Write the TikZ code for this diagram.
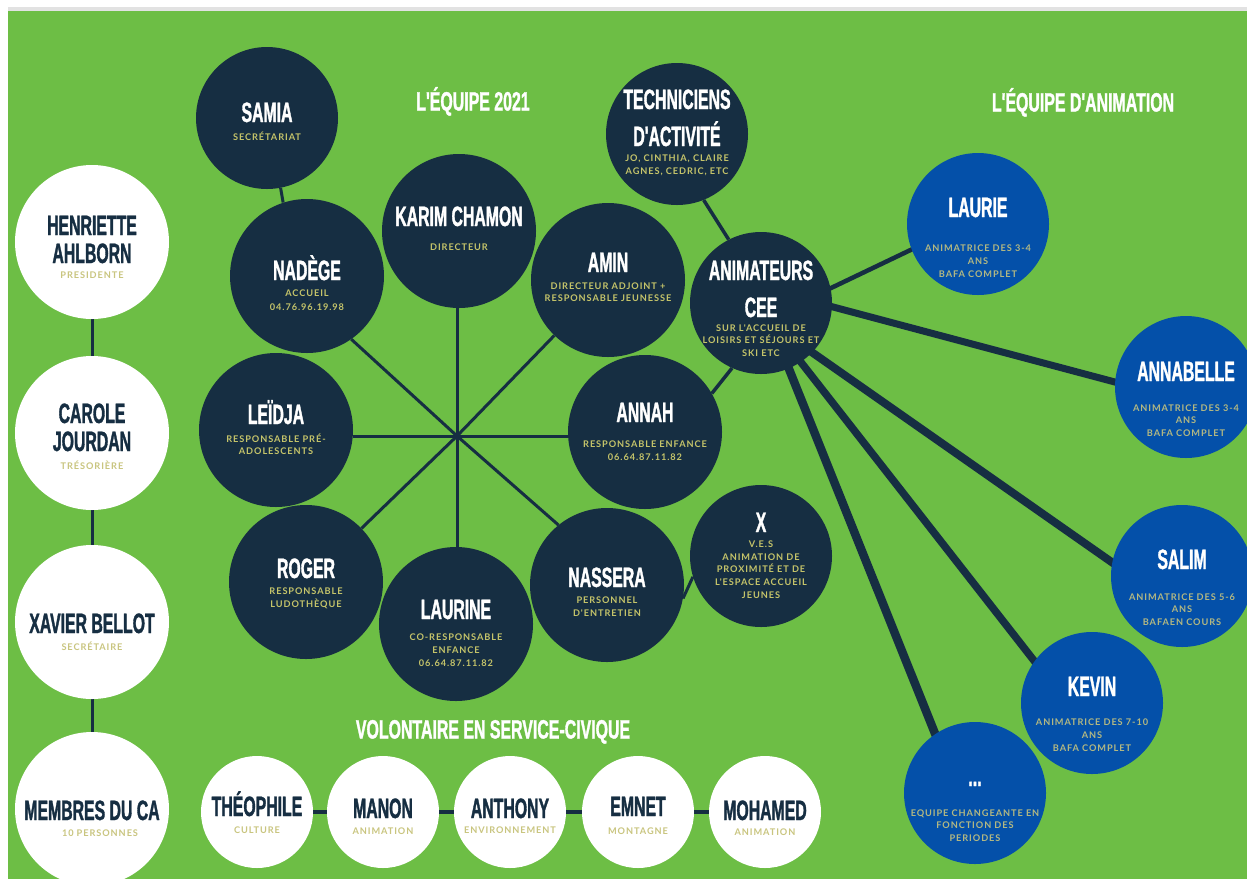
\documentclass[tikz,border=0pt]{standalone}
\usepackage{fontspec}
\newfontfamily\condf[FakeStretch=0.565,FakeBold=1.2]{Liberation Sans}
\newfontfamily\titlef[FakeStretch=0.60,FakeBold=1.2]{Liberation Sans}
\newfontfamily\subff[LetterSpace=10]{Lato}
\newcommand\substrut{\rule{0pt}{9pt}}
\definecolor{grn}{HTML}{6DBE45}
\definecolor{navy}{HTML}{162E42}
\definecolor{blu}{HTML}{0450A9}
\definecolor{oliv}{HTML}{C5C46A}
\definecolor{khaki}{HTML}{C9C57F}
\definecolor{bkhaki}{HTML}{B3B882}
\definecolor{topgray}{HTML}{E2E2E2}
\pgfdeclarelayer{back}
\pgfdeclarelayer{lines}
\pgfsetlayers{back,lines,main}
\begin{document}
\begin{tikzpicture}[x=1pt,y=-1pt,
  dk/.style={circle,fill=navy,inner sep=0,minimum size=#1},
  bl/.style={circle,fill=blu,inner sep=0,minimum size=#1},
  wh/.style={circle,fill=white,inner sep=0,minimum size=#1},
  nmw/.style={font=\condf\bfseries\fontsize{28}{28}\selectfont,text=white,inner sep=0,anchor=base},
  nmn/.style={font=\condf\bfseries\fontsize{28}{28}\selectfont,text=navy,inner sep=0,anchor=base},
  ttl/.style={font=\titlef\bfseries\fontsize{26.5}{26.5}\selectfont,text=white,inner sep=0,anchor=base},
  sbd/.style={font=\subff\bfseries\fontsize{9.2}{12.8}\selectfont,text=oliv,align=center,inner sep=0,anchor=north},
  sbw/.style={sbd,text=khaki},
  sbb/.style={sbd,text=bkhaki},
  ln/.style={draw=navy,line width=3},
  wln/.style={draw=navy,line width=#1,shorten <=-4pt,shorten >=-4pt}]
\useasboundingbox (0,0) rectangle (1247,879);
\clip (0,0) rectangle (1247,879);
\begin{pgfonlayer}{back}
  \fill[white] (0,0) rectangle (1247,879);
  \fill[topgray] (8,7) rectangle (1247,11);
  \fill[grn] (8,11) rectangle (1247,879);
\end{pgfonlayer}

% titles
\node[ttl] (t2021) at (473,110.5) {L'ÉQUIPE 2021};
\node[ttl] (tanim) at (1083,111.5) {L'ÉQUIPE D'ANIMATION};
\node[ttl] (tvol) at (493,738.5) {VOLONTAIRE EN SERVICE-CIVIQUE};

% white column
\node[wh=154] (henriette) at (92,242) {};
\node[wh=154] (carole) at (92,433) {};
\node[wh=154] (xavier) at (92,622) {};
\node[wh=154] (membres) at (92,809) {};
% dark circles
\node[dk=142] (samia) at (267,118) {};
\node[dk=154] (nadege) at (307,276) {};
\node[dk=154] (karim) at (459,231) {};
\node[dk=154] (amin) at (608,280) {};
\node[dk=142] (tech) at (677,134) {};
\node[dk=142] (anim) at (761,303) {};
\node[dk=154] (leidja) at (276,430) {};
\node[dk=154] (annah) at (645,432) {};
\node[dk=154] (roger) at (306,582) {};
\node[dk=154] (laurine) at (456,624) {};
\node[dk=154] (nassera) at (607,585) {};
\node[dk=142] (xnode) at (761,556) {};
% blue circles
\node[bl=142] (laurie) at (978,224) {};
\node[bl=142] (annabelle) at (1186,387) {};
\node[bl=142] (salim) at (1182,576) {};
\node[bl=142] (kevin) at (1092,703) {};
\node[bl=142] (dots) at (975,793) {};
% bottom row
\node[wh=112] (theo) at (257,812) {};
\node[wh=112] (manon) at (383,812) {};
\node[wh=112] (anthony) at (510,812) {};
\node[wh=112] (emnet) at (638,812) {};
\node[wh=112] (mohamed) at (765,812) {};

\coordinate (hub) at (457,436);

\begin{pgfonlayer}{lines}
  \draw[ln] (hub) -- (hub |- karim.south);
  \draw[ln] (hub) -- (amin);
  \draw[ln] (hub) -- (hub -| annah.west);
  \draw[ln] (hub) -- (nassera.129);
  \draw[ln] (hub) -- (hub |- laurine.north);
  \draw[ln] (hub) -- (roger);
  \draw[ln] (hub) -- (hub -| leidja.east);
  \draw[ln] (hub) -- (nadege.-55.5);
  \draw[ln] (samia.-79.5) -- (nadege.108);
  \draw[ln,line width=3.5] (tech.-68) -- (anim.117.6);
  \draw[ln,line width=3.5] (annah.30) -- (anim.-114);
  \draw[ln] (nassera.-10) -- (xnode.-163.4);
  \draw[wln=4.5] (anim.12.7) -- (laurie.-159.5);
  \draw[wln=7] (anim.-3) -- (annabelle.176);
  \draw[wln=8] (anim.-44) -- (salim.169.5);
  \draw[wln=7.5] (anim.-56.5) -- (kevin.144.5);
  \draw[wln=8.5] (anim.-67) -- (dots.124.6);
  \draw[ln] (henriette) -- (carole);
  \draw[ln] (carole) -- (xavier);
  \draw[ln] (xavier) -- (membres);
  \draw[ln,line width=4] (theo) -- (manon);
  \draw[ln,line width=4] (manon) -- (anthony);
  \draw[ln,line width=4] (anthony) -- (emnet);
  \draw[ln,line width=4] (emnet) -- (mohamed);
\end{pgfonlayer}

% texts: white column
\node[nmn] (henriette-n1) at (92,235) {HENRIETTE};
\node[nmn] (henriette-n2) at (92,263) {AHLBORN};
\node[sbw] (henriette-s) at (92,269.2) {\substrut PRESIDENTE};
\node[nmn] (carole-n1) at (92,423) {CAROLE};
\node[nmn] (carole-n2) at (92,451) {JOURDAN};
\node[sbw] (carole-s) at (92,460.2) {\substrut TRÉSORIÈRE};
\node[nmn] (xavier-n) at (92,633) {XAVIER BELLOT};
\node[sbw] (xavier-s) at (92,641.2) {\substrut SECRÉTAIRE};
\node[nmn] (membres-n) at (92,820) {MEMBRES DU CA};
\node[sbw] (membres-s) at (100,827.2) {\substrut 10 PERSONNES};

% dark
\node[nmw] (samia-n) at (267,122) {SAMIA};
\node[sbd] (samia-s) at (267,131.2) {\substrut SECRÉTARIAT};
\node[nmw] (nadege-n) at (307,280) {NADÈGE};
\node[sbd,font=\subff\bfseries\fontsize{9.2}{14}\selectfont] (nadege-s) at (307,287.2) {\substrut ACCUEIL\\04.76.96.19.98};
\node[nmw] (karim-n) at (459,226) {KARIM CHAMON};
\node[sbd] (karim-s) at (459,241.2) {\substrut DIRECTEUR};
\node[nmw] (amin-n) at (608,272) {AMIN};
\node[sbd,font=\subff\bfseries\fontsize{9.2}{12.2}\selectfont] (amin-s) at (608,280.2) {\substrut DIRECTEUR ADJOINT +\\RESPONSABLE JEUNESSE};
\node[nmw] (tech-n1) at (677,109) {TECHNICIENS};
\node[nmw] (tech-n2) at (677,146) {D'ACTIVITÉ};
\node[sbd] (tech-s) at (677,152.2) {\substrut JO, CINTHIA, CLAIRE\\AGNES, CEDRIC, ETC};
\node[nmw] (anim-n1) at (761,280) {ANIMATEURS};
\node[nmw] (anim-n2) at (761,317) {CEE};
\node[sbd,font=\subff\bfseries\fontsize{9.2}{12.5}\selectfont] (anim-s) at (761,322.2) {\substrut SUR L'ACCUEIL DE\\LOISIRS ET SÉJOURS ET\\SKI ETC};
\node[nmw] (leidja-n) at (276,424) {LEÏDJA};
\node[sbd,font=\subff\bfseries\fontsize{9.2}{12.2}\selectfont] (leidja-s) at (276,433.2) {\substrut RESPONSABLE PRÉ-\\ADOLESCENTS};
\node[nmw] (annah-n) at (645,422) {ANNAH};
\node[sbd] (annah-s) at (645,438.2) {\substrut RESPONSABLE ENFANCE\\06.64.87.11.82};
\node[nmw] (roger-n) at (306,578) {ROGER};
\node[sbd] (roger-s) at (306,585.2) {\substrut RESPONSABLE\\LUDOTHÈQUE};
\node[nmw] (laurine-n) at (456,619) {LAURINE};
\node[sbd] (laurine-s) at (456,631.2) {\substrut CO-RESPONSABLE\\ENFANCE\\06.64.87.11.82};
\node[nmw] (nassera-n) at (607,587) {NASSERA};
\node[sbd] (nassera-s) at (607,594.2) {\substrut PERSONNEL\\D'ENTRETIEN};
\node[nmw] (xnode-n) at (761,532) {X};
\node[sbd,font=\subff\bfseries\fontsize{9.2}{12.75}\selectfont] (xnode-s) at (761,538.2) {\substrut V.E.S\\ANIMATION DE\\PROXIMITÉ ET DE\\L'ESPACE ACCUEIL\\JEUNES};

% blue
\node[nmw] (laurie-n) at (978,217) {LAURIE};
\node[sbb] (laurie-s) at (978,242.2) {\substrut ANIMATRICE DES 3-4\\ANS\\BAFA COMPLET};
\node[nmw] (annabelle-n) at (1186,381) {ANNABELLE};
\node[sbb,font=\subff\bfseries\fontsize{9.2}{12.5}\selectfont] (annabelle-s) at (1186,402.2) {\substrut ANIMATRICE DES 3-4\\ANS\\BAFA COMPLET};
\node[nmw] (salim-n) at (1182,569) {SALIM};
\node[sbb,font=\subff\bfseries\fontsize{9.2}{12.5}\selectfont] (salim-s) at (1182,591.2) {\substrut ANIMATRICE DES 5-6\\ANS\\BAFAEN COURS};
\node[nmw] (kevin-n) at (1092,696) {KEVIN};
\node[sbb] (kevin-s) at (1092,716.2) {\substrut ANIMATRICE DES 7-10\\ANS\\BAFA COMPLET};
\node[nmw] (dots-n) at (975,786) {...};
\node[sbb,font=\subff\bfseries\fontsize{9.2}{12.5}\selectfont] (dots-s) at (975,807.2) {\substrut EQUIPE CHANGEANTE EN\\FONCTION DES\\PERIODES};

% bottom row
\node[nmn] (theo-n) at (257,816) {THÉOPHILE};
\node[sbw] (theo-s) at (257,824.2) {\substrut CULTURE};
\node[nmn] (manon-n) at (383,818) {MANON};
\node[sbw] (manon-s) at (383,825.2) {\substrut ANIMATION};
\node[nmn] (anthony-n) at (510,818) {ANTHONY};
\node[sbw] (anthony-s) at (510,824.2) {\substrut ENVIRONNEMENT};
\node[nmn] (emnet-n) at (638,816) {EMNET};
\node[sbw] (emnet-s) at (638,825.2) {\substrut MONTAGNE};
\node[nmn] (mohamed-n) at (765,820) {MOHAMED};
\node[sbw] (mohamed-s) at (765,826.2) {\substrut ANIMATION};
\end{tikzpicture}
\end{document}
